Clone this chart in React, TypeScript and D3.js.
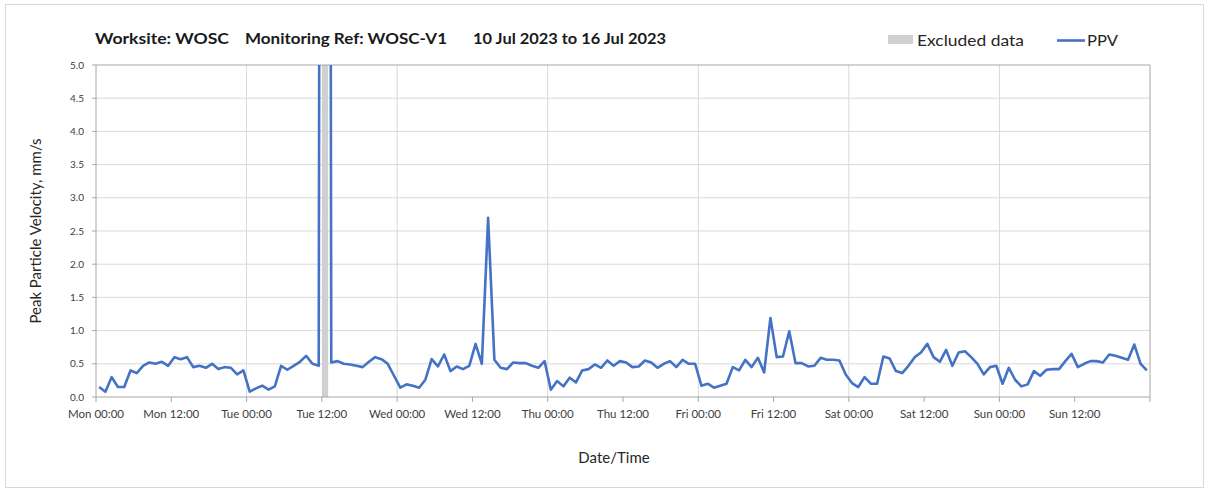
import React from 'react';
import * as d3 from 'd3';

// hourly PPV readings (mm/s), first reading at Mon 00:30
const ppv = [
  0.15, 0.08, 0.30, 0.15, 0.15, 0.40, 0.36, 0.47, 0.52, 0.50, 0.53, 0.47,
  0.60, 0.57, 0.60, 0.45, 0.47, 0.44, 0.50, 0.42, 0.45, 0.44, 0.34, 0.40,
  0.08, 0.13, 0.17, 0.11, 0.16, 0.47, 0.41, 0.47, 0.53, 0.62, 0.50, 0.47,
  60, 0.52, 0.54, 0.50, 0.49, 0.47, 0.45, 0.53, 0.60, 0.57, 0.50, 0.32,
  0.14, 0.19, 0.17, 0.14, 0.26, 0.57, 0.46, 0.64, 0.39, 0.46, 0.42, 0.47,
  0.80, 0.50, 2.70, 0.56, 0.44, 0.42, 0.52, 0.51, 0.51, 0.47, 0.44, 0.54,
  0.11, 0.24, 0.16, 0.29, 0.22, 0.40, 0.42, 0.49, 0.44, 0.55, 0.47, 0.54,
  0.52, 0.45, 0.46, 0.55, 0.52, 0.44, 0.50, 0.54, 0.45, 0.56, 0.50, 0.50,
  0.17, 0.20, 0.14, 0.17, 0.20, 0.45, 0.40, 0.56, 0.45, 0.59, 0.37, 1.19,
  0.60, 0.61, 0.99, 0.51, 0.51, 0.46, 0.47, 0.59, 0.56, 0.56, 0.55, 0.34,
  0.21, 0.15, 0.30, 0.20, 0.20, 0.61, 0.58, 0.39, 0.36, 0.47, 0.60, 0.67,
  0.80, 0.60, 0.53, 0.71, 0.47, 0.67, 0.69, 0.60, 0.50, 0.34, 0.45, 0.47,
  0.20, 0.44, 0.26, 0.16, 0.19, 0.39, 0.32, 0.41, 0.42, 0.42, 0.54, 0.65,
  0.45, 0.50, 0.54, 0.54, 0.52, 0.64, 0.62, 0.59, 0.56, 0.79, 0.50, 0.40,
];

// hours since Mon 00:00
const excluded = [[36, 37]];
const xTickLabels = [
  'Mon 00:00', 'Mon 12:00', 'Tue 00:00', 'Tue 12:00', 'Wed 00:00', 'Wed 12:00', 'Thu 00:00',
  'Thu 12:00', 'Fri 00:00', 'Fri 12:00', 'Sat 00:00', 'Sat 12:00', 'Sun 00:00', 'Sun 12:00',
];
const yTicks = [0, 0.5, 1, 1.5, 2, 2.5, 3, 3.5, 4, 4.5, 5];
const dayLines = [24, 48, 72, 96, 120, 144];

const font = 'Lato, "Open Sans", sans-serif';

export default function App() {
  const left = 96, right = 1150, top = 65, bottom = 397;

  const x = d3.scaleLinear().domain([0, 168]).range([left, right]);
  const y = d3.scaleLinear().domain([0, 5]).range([bottom, top]);

  const line = d3.line<number>()
    .x((_, i) => x(i + 0.5))
    .y(d => y(d));

  return (
    <div style={{ position: 'absolute', left: 0, top: 0 }}>
      <svg width={1208} height={492} style={{ display: 'block', fontFamily: font }}>
        <rect x={0} y={0} width={1208} height={492} fill="#fff" />
        <rect x={5.5} y={4.5} width={1198} height={483} fill="none" stroke="#d9d9d9" />

        <defs>
          <clipPath id="plot">
            <rect x={left} y={top} width={right - left} height={bottom - top} />
          </clipPath>
        </defs>

        {/* grid */}
        {yTicks.slice(1, -1).map(t => (
          <line key={t} x1={left} x2={right} y1={y(t)} y2={y(t)} stroke="#d9d9d9" strokeWidth={1} />
        ))}
        {dayLines.map(h => (
          <line key={h} x1={x(h)} x2={x(h)} y1={top} y2={bottom} stroke="#d9d9d9" strokeWidth={1} />
        ))}

        {excluded.map(([a, b]) => (
          <rect key={a} x={x(a)} y={top} width={x(b) - x(a)} height={bottom - top} fill="#d0d0d0" />
        ))}

        {/* frame */}
        <line x1={left} x2={right} y1={top} y2={top} stroke="#a6a6a6" />
        <line x1={right} x2={right} y1={top} y2={bottom} stroke="#a6a6a6" />
        <line x1={left} x2={left} y1={top} y2={bottom} stroke="#a6a6a6" />
        <line x1={left} x2={right} y1={bottom} y2={bottom} stroke="#a6a6a6" />

        <path d={line(ppv) ?? ''} fill="none" stroke="#4472c4" strokeWidth={2.6}
          strokeLinejoin="round" clipPath="url(#plot)" />

        {/* y axis */}
        {yTicks.map(t => (
          <g key={t}>
            <line x1={left - 4} x2={left} y1={y(t)} y2={y(t)} stroke="#a6a6a6" />
            <text x={84} y={y(t)} dy="0.35em" textAnchor="end" fontSize={10} fill="#404040">
              {t.toFixed(1)}
            </text>
          </g>
        ))}

        {/* x axis */}
        {xTickLabels.map((lab, i) => (
          <g key={lab}>
            <line x1={x(i * 12)} x2={x(i * 12)} y1={bottom} y2={bottom + 5} stroke="#a6a6a6" />
            <text x={x(i * 12)} y={418} textAnchor="middle" fontSize={11.5} fill="#404040">{lab}</text>
          </g>
        ))}
        <line x1={right} x2={right} y1={bottom} y2={bottom + 5} stroke="#a6a6a6" />

        <text x={614} y={463} textAnchor="middle" fontSize={15} fill="#262626">Date/Time</text>
        <text transform="translate(41,231) rotate(-90)" textAnchor="middle" fontSize={15} fill="#262626">
          Peak Particle Velocity, mm/s
        </text>

        {/* title */}
        <g fontWeight="bold" fontSize={15} fill="#1a1a1a">
          <text x={95} y={44} textLength={134} lengthAdjust="spacingAndGlyphs">Worksite: WOSC</text>
          <text x={245} y={44} textLength={202} lengthAdjust="spacingAndGlyphs">Monitoring Ref: WOSC-V1</text>
          <text x={473} y={44} textLength={193} lengthAdjust="spacingAndGlyphs">10 Jul 2023 to 16 Jul 2023</text>
        </g>

        {/* legend */}
        <rect x={888} y={35} width={25} height={9} fill="#d0d0d0" />
        <text x={917} y={46} fontSize={16} fill="#262626" textLength={107} lengthAdjust="spacingAndGlyphs">Excluded data</text>
        <line x1={1057} x2={1085} y1={40.5} y2={40.5} stroke="#4472c4" strokeWidth={2.6} />
        <text x={1087} y={46} fontSize={16} fill="#262626" textLength={31} lengthAdjust="spacingAndGlyphs">PPV</text>
      </svg>
    </div>
  );
}
